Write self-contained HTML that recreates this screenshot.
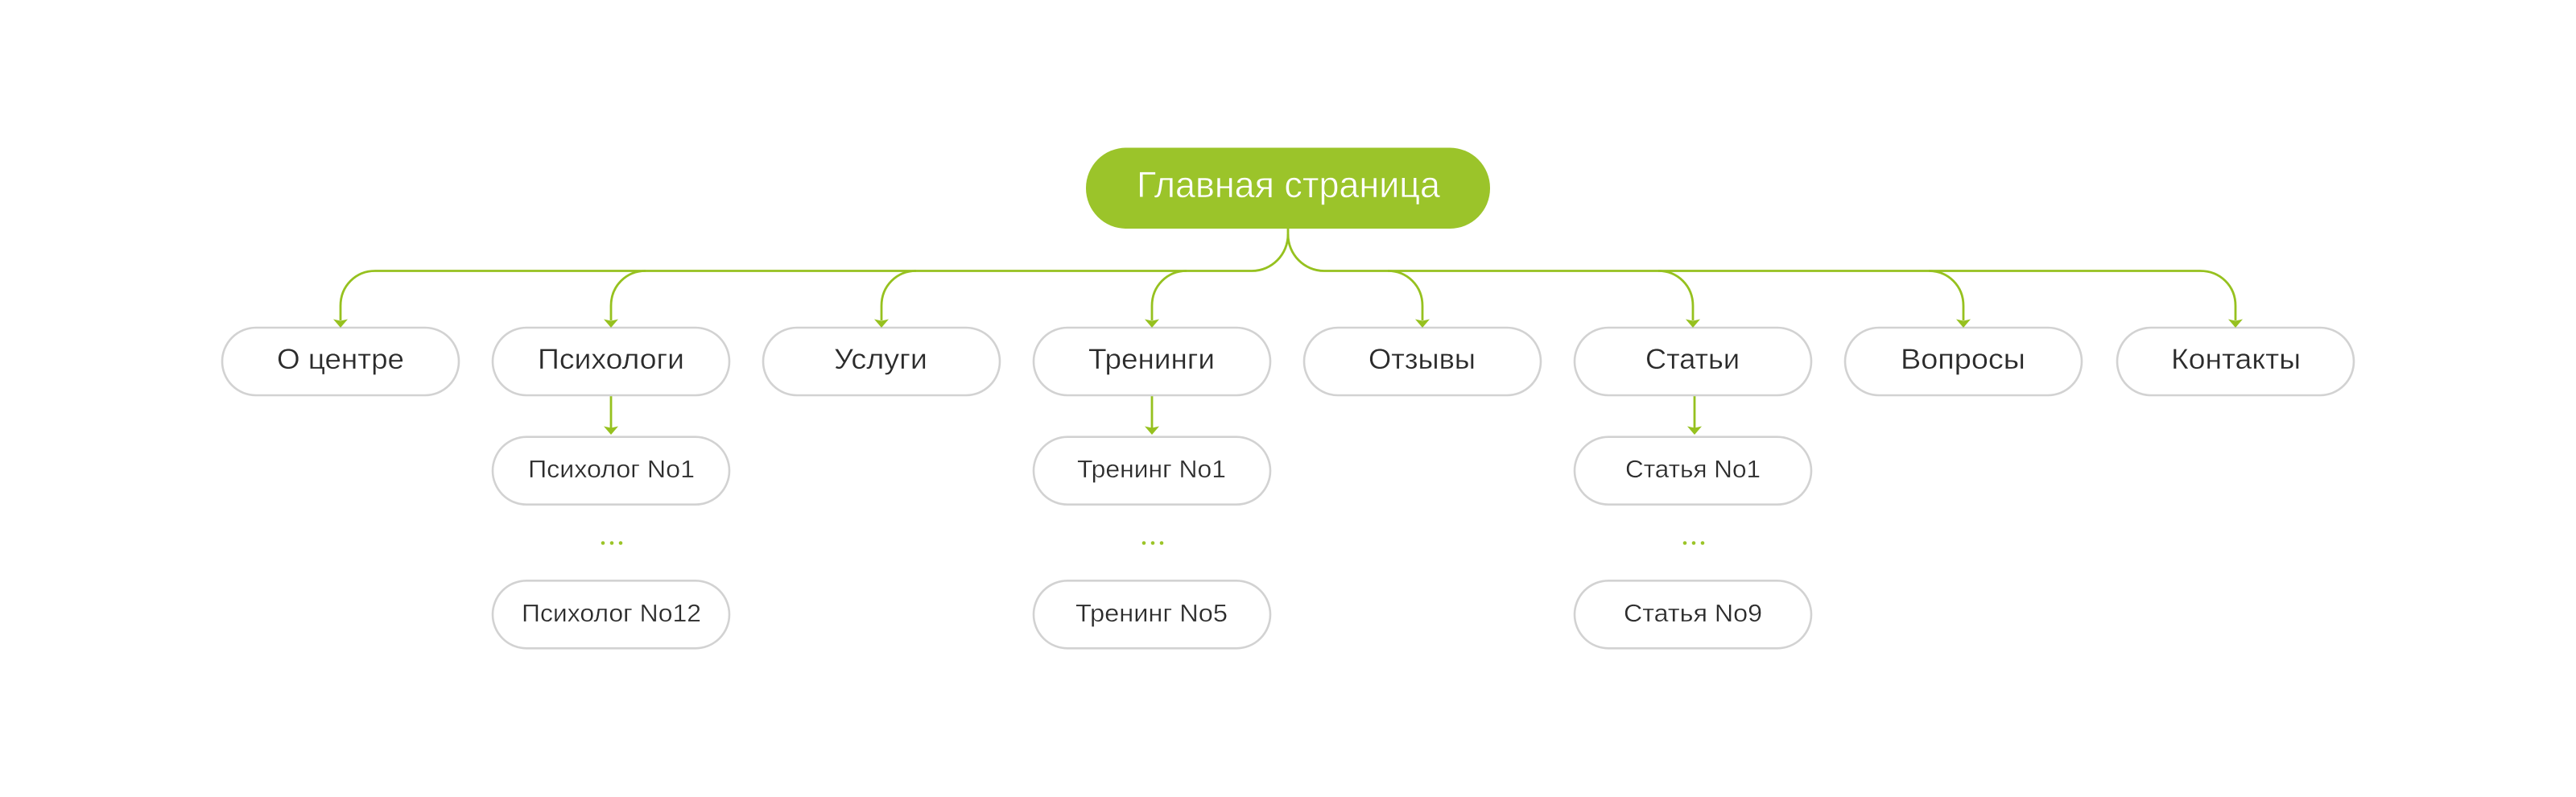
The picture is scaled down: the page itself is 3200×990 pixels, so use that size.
<!DOCTYPE html>
<html lang="ru">
<head>
<meta charset="utf-8">
<title>Site map</title>
<style>
html,body{margin:0;padding:0;background:#fff;width:3200px;height:990px;overflow:hidden}
svg{display:block}
text{font-family:"Liberation Sans","Noto Sans CJK JP",sans-serif;fill:#2b2b2b}
.p{fill:#fff;stroke:#d2d2d2;stroke-width:2.6}
.l{fill:none;stroke:#96c11f;stroke-width:2.8}
.a{fill:#96c11f}
.d{fill:#9bc427}
.t1{font-size:35px;stroke:#fff;stroke-width:.35px}
.t2{font-size:31px;stroke:#fff;stroke-width:.35px}
</style>
</head>
<body>
<svg width="3200" height="990" viewBox="0 0 3200 990" xmlns="http://www.w3.org/2000/svg">
<rect width="3200" height="990" fill="#fff"/>

<!-- connectors -->
<path class="l" d="M1600 284V291C1600 316 1580 336.500 1555 336.500H466C442 336.500 423 355 423 380V398"/>
<path class="l" d="M1600 291C1600 316 1620 336.500 1645 336.500H2733C2758 336.500 2777 355 2777 380V398"/>
<path class="l" d="M802 336.500C778 336.500 759 355 759 380V398"/>
<path class="l" d="M1138 336.500C1114 336.500 1095 355 1095 380V398"/>
<path class="l" d="M1474 336.500C1450 336.500 1431 355 1431 380V398"/>
<path class="l" d="M1724 336.500C1748 336.500 1767 355 1767 380V398"/>
<path class="l" d="M2060 336.500C2084 336.500 2103 355 2103 380V398"/>
<path class="l" d="M2396 336.500C2420 336.500 2439 355 2439 380V398"/>
<path class="l" d="M759 492V533"/>
<path class="l" d="M1431 492V533"/>
<path class="l" d="M2105 492V533"/>

<!-- root -->
<rect x="1349" y="183.500" width="502" height="100.500" rx="50" fill="#9bc42a"/>
<text x="1412" y="245" font-size="45" textLength="377" lengthAdjust="spacingAndGlyphs" style="fill:#fff;stroke:#9bc42a;stroke-width:.6px">Главная страница</text>

<!-- level 1 -->
<rect class="p" x="276" y="407" width="294" height="84" rx="42"/>
<rect class="p" x="612" y="407" width="294" height="84" rx="42"/>
<rect class="p" x="948" y="407" width="294" height="84" rx="42"/>
<rect class="p" x="1284" y="407" width="294" height="84" rx="42"/>
<rect class="p" x="1620" y="407" width="294" height="84" rx="42"/>
<rect class="p" x="1956" y="407" width="294" height="84" rx="42"/>
<rect class="p" x="2292" y="407" width="294" height="84" rx="42"/>
<rect class="p" x="2630" y="407" width="294" height="84" rx="42"/>
<text class="t1" x="344" y="458" textLength="158" lengthAdjust="spacingAndGlyphs">О центре</text>
<text class="t1" x="668" y="458" textLength="182" lengthAdjust="spacingAndGlyphs">Психологи</text>
<text class="t1" x="1036" y="458" textLength="116" lengthAdjust="spacingAndGlyphs">Услуги</text>
<text class="t1" x="1352" y="458" textLength="157" lengthAdjust="spacingAndGlyphs">Тренинги</text>
<text class="t1" x="1700" y="458" textLength="133" lengthAdjust="spacingAndGlyphs">Отзывы</text>
<text class="t1" x="2044" y="458" textLength="117" lengthAdjust="spacingAndGlyphs">Статьи</text>
<text class="t1" x="2361" y="458" textLength="155" lengthAdjust="spacingAndGlyphs">Вопросы</text>
<text class="t1" x="2697" y="458" textLength="161" lengthAdjust="spacingAndGlyphs">Контакты</text>

<!-- level 2 -->
<rect class="p" x="612" y="542.700" width="294" height="84" rx="42"/>
<rect class="p" x="612" y="721.300" width="294" height="84" rx="42"/>
<rect class="p" x="1284" y="542.700" width="294" height="84" rx="42"/>
<rect class="p" x="1284" y="721.300" width="294" height="84" rx="42"/>
<rect class="p" x="1956" y="542.700" width="294" height="84" rx="42"/>
<rect class="p" x="1956" y="721.300" width="294" height="84" rx="42"/>
<text class="t2" x="656" y="593" textLength="207" lengthAdjust="spacingAndGlyphs">Психолог No1</text>
<text class="t2" x="648" y="772" textLength="223" lengthAdjust="spacingAndGlyphs">Психолог No12</text>
<text class="t2" x="1338" y="593" textLength="185" lengthAdjust="spacingAndGlyphs">Тренинг No1</text>
<text class="t2" x="1336" y="772" textLength="189" lengthAdjust="spacingAndGlyphs">Тренинг No5</text>
<text class="t2" x="2019" y="593" textLength="168" lengthAdjust="spacingAndGlyphs">Статья No1</text>
<text class="t2" x="2017" y="772" textLength="172" lengthAdjust="spacingAndGlyphs">Статья No9</text>

<!-- arrowheads -->
<polygon class="a" points="414,396.500 423,398.500 432,396.500 423,407"/>
<polygon class="a" points="750,396.500 759,398.500 768,396.500 759,407"/>
<polygon class="a" points="1086,396.500 1095,398.500 1104,396.500 1095,407"/>
<polygon class="a" points="1422,396.500 1431,398.500 1440,396.500 1431,407"/>
<polygon class="a" points="1758,396.500 1767,398.500 1776,396.500 1767,407"/>
<polygon class="a" points="2094,396.500 2103,398.500 2112,396.500 2103,407"/>
<polygon class="a" points="2430,396.500 2439,398.500 2448,396.500 2439,407"/>
<polygon class="a" points="2768,396.500 2777,398.500 2786,396.500 2777,407"/>
<polygon class="a" points="750,529.500 759,531.500 768,529.500 759,540"/>
<polygon class="a" points="1422,529.500 1431,531.500 1440,529.500 1431,540"/>
<polygon class="a" points="2096,529.500 2105,531.500 2114,529.500 2105,540"/>

<!-- ellipsis -->
<circle class="d" cx="749" cy="674.500" r="2.300"/><circle class="d" cx="760" cy="674.500" r="2.300"/><circle class="d" cx="771" cy="674.500" r="2.300"/>
<circle class="d" cx="1421" cy="674.500" r="2.300"/><circle class="d" cx="1432" cy="674.500" r="2.300"/><circle class="d" cx="1443" cy="674.500" r="2.300"/>
<circle class="d" cx="2093" cy="674.500" r="2.300"/><circle class="d" cx="2104" cy="674.500" r="2.300"/><circle class="d" cx="2115" cy="674.500" r="2.300"/>
</svg>
</body>
</html>
